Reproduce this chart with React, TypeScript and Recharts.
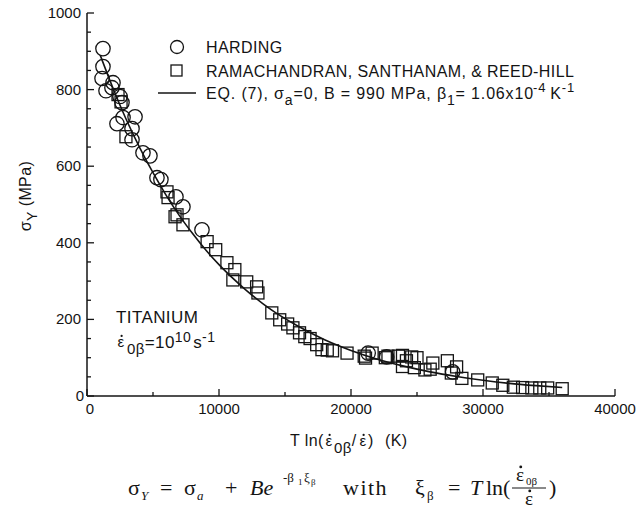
import React from 'react';
import { ComposedChart, Scatter, Line, XAxis, YAxis } from 'recharts';

// Harding data (open circles)
const harding = [
  { x: 1210, y: 907 }, { x: 1210, y: 860 }, { x: 1140, y: 829 }, { x: 1440, y: 797 },
  { x: 1890, y: 805 }, { x: 1970, y: 818 }, { x: 2500, y: 782 }, { x: 2650, y: 766 },
  { x: 2730, y: 727 }, { x: 3640, y: 729 }, { x: 2270, y: 711 }, { x: 3410, y: 698 },
  { x: 3410, y: 669 }, { x: 4240, y: 635 }, { x: 4770, y: 627 }, { x: 5300, y: 570 },
  { x: 5600, y: 565 }, { x: 6740, y: 520 }, { x: 7270, y: 494 }, { x: 8710, y: 434 },
  { x: 21300, y: 112 }, { x: 22700, y: 102 }, { x: 27700, y: 63 },
];

// Ramachandran, Santhanam & Reed-Hill data (open squares)
const ramachandran = [
  { x: 2350, y: 787 }, { x: 2580, y: 768 }, { x: 2950, y: 677 }, { x: 6060, y: 533 },
  { x: 6140, y: 518 }, { x: 6670, y: 468 }, { x: 6820, y: 473 }, { x: 7270, y: 447 },
  { x: 9100, y: 403 }, { x: 9750, y: 382 }, { x: 10600, y: 348 }, { x: 11200, y: 330 },
  { x: 11050, y: 303 }, { x: 12100, y: 298 }, { x: 12850, y: 285 }, { x: 12950, y: 269 },
  { x: 14000, y: 217 }, { x: 14600, y: 199 }, { x: 15200, y: 188 }, { x: 15600, y: 178 },
  { x: 16100, y: 165 }, { x: 16500, y: 155 }, { x: 16900, y: 150 }, { x: 17400, y: 134 },
  { x: 17800, y: 121 }, { x: 18200, y: 120 }, { x: 18600, y: 118 }, { x: 19700, y: 112 },
  { x: 21000, y: 104 }, { x: 21100, y: 99 }, { x: 21600, y: 112 }, { x: 22600, y: 100 },
  { x: 22800, y: 104 }, { x: 23600, y: 104 }, { x: 23900, y: 106 }, { x: 24200, y: 92 },
  { x: 24600, y: 102 }, { x: 25000, y: 100 }, { x: 23900, y: 77 }, { x: 24800, y: 74 },
  { x: 25600, y: 68 }, { x: 26000, y: 70 }, { x: 26200, y: 86 }, { x: 27300, y: 92 },
  { x: 27600, y: 60 }, { x: 28000, y: 76 }, { x: 28400, y: 46 }, { x: 29600, y: 42 },
  { x: 30700, y: 34 }, { x: 31500, y: 28 }, { x: 32300, y: 23 }, { x: 33000, y: 22 },
  { x: 33700, y: 21 }, { x: 34300, y: 21 }, { x: 34900, y: 21 }, { x: 36000, y: 19 },
];

// EQ. (7) fit curve, sigma = 990 exp(-1.06e-4 xi)
const eq7 = [
  { x: 1000, y: 890 }, { x: 2000, y: 801 }, { x: 3000, y: 720 }, { x: 4000, y: 648 },
  { x: 5000, y: 583 }, { x: 6000, y: 524 }, { x: 7000, y: 471 }, { x: 8000, y: 424 },
  { x: 9000, y: 381 }, { x: 10000, y: 343 }, { x: 12000, y: 278 }, { x: 14000, y: 224 },
  { x: 16000, y: 182 }, { x: 18000, y: 147 }, { x: 20000, y: 119 }, { x: 22000, y: 96 },
  { x: 24000, y: 78 }, { x: 26000, y: 63 }, { x: 28000, y: 51 }, { x: 30000, y: 41 },
  { x: 32000, y: 33 }, { x: 34000, y: 27 }, { x: 36000, y: 22 },
];

const xTicks = [0, 5000, 10000, 15000, 20000, 25000, 30000, 35000, 40000];
const yTicks = Array.from({ length: 21 }, (_, i) => i * 50);

const INK = '#141414';
const SANS = '"Liberation Sans", Arial, Helvetica, sans-serif';
const SERIF = '"Liberation Serif", "Times New Roman", serif';

const Circle = (p: any) => (
  <circle cx={p.cx} cy={p.cy} r={7.2} fill="none" stroke={INK} strokeWidth={1.3} />
);
const Square = (p: any) => (
  <rect x={p.cx - 6} y={p.cy - 6} width={12} height={12} fill="none" stroke={INK} strokeWidth={1.3} />
);

const LeftTick = ({ x, y, payload }: any) => {
  const major = payload.value % 200 === 0;
  return (
    <g>
      <line x1={x} x2={x + (major ? 7 : 4)} y1={y} y2={y} stroke={INK} strokeWidth={1.3} />
      {major && (
        <text x={payload.value === 0 ? x - 3 : x - 6} y={y + 5} textAnchor="end" fontSize={15} fontFamily={SANS} fill={INK}>
          {payload.value}
        </text>
      )}
    </g>
  );
};

const RightTick = ({ x, y, payload }: any) => {
  const major = payload.value % 200 === 0;
  return <line x1={x} x2={x - (major ? 7 : 4)} y1={y} y2={y} stroke={INK} strokeWidth={1.3} />;
};

const BottomTick = ({ x, y, payload }: any) => {
  const major = payload.value % 10000 === 0;
  return (
    <g>
      <line x1={x} x2={x} y1={y} y2={y - (major ? 7 : 4)} stroke={INK} strokeWidth={1.3} />
      {major && (
        <text x={payload.value === 0 ? x + 3 : x} y={y + 18} textAnchor="middle" fontSize={15} fontFamily={SANS} fill={INK}>
          {payload.value}
        </text>
      )}
    </g>
  );
};

const TopTick = ({ x, y }: any) => (
  <line x1={x} x2={x} y1={y} y2={y + 5} stroke={INK} strokeWidth={1.3} />
);

// strain-rate epsilon with its time-derivative dot
const EpsDot = ({ x, y, size, family }: { x: number; y: number; size: number; family: string }) => (
  <g>
    <text x={x} y={y} textAnchor="middle" fontFamily={family} fontSize={size}>ε</text>
    <circle cx={x + size * 0.04} cy={y - size * 0.74} r={size * 0.075} fill={INK} />
  </g>
);

const Overlay = () => (
  <svg width={644} height={508} style={{ position: 'absolute', left: 0, top: 0, pointerEvents: 'none' }}>
    <g fontFamily={SANS} fill={INK} fontSize={16} letterSpacing={0.4}>
      {/* legend */}
      <circle cx={177} cy={47} r={6.5} fill="none" stroke={INK} strokeWidth={1.3} />
      <text x={206} y={53}>HARDING</text>
      <rect x={171} y={65} width={11} height={11} fill="none" stroke={INK} strokeWidth={1.3} />
      <text x={206} y={77}>RAMACHANDRAN, SANTHANAM, &amp; REED-HILL</text>
      <line x1={158} x2={196} y1={93} y2={93} stroke={INK} strokeWidth={1.5} />
      <text x={206} y={99} letterSpacing={0.85}>
        EQ. (7), σ<tspan dy={6} fontSize={14}>a</tspan>
        <tspan dy={-6}>=0, B = 990 MPa, β</tspan>
        <tspan dy={6} fontSize={14}>1</tspan>
        <tspan dy={-6}>= 1.06x10</tspan>
        <tspan dy={-7} dx={-1} fontSize={13}>-4</tspan>
        <tspan dy={7} dx={4}>K</tspan>
        <tspan dy={-7} fontSize={13}>-1</tspan>
      </text>

      {/* material note */}
      <text x={116} y={323} fontSize={17}>TITANIUM</text>
      <EpsDot x={121} y={347} size={15} family={SANS} />
      <text x={127} y={348} fontSize={17}>
        <tspan dy={6} fontSize={15}>0β</tspan>
        <tspan dy={-6}>=10</tspan>
        <tspan dy={-6} fontSize={14}>10</tspan>
        <tspan dy={6} dx={2}>s</tspan>
        <tspan dy={-6} fontSize={14}>-1</tspan>
      </text>

      {/* axis titles */}
      <text x={290} y={446} fontSize={16}>T ln(</text>
      <EpsDot x={329} y={446} size={15} family={SANS} />
      <text x={334} y={446} fontSize={16}>
        <tspan dy={7} fontSize={15}>0β</tspan>
        <tspan dy={-7}>/</tspan>
      </text>
      <EpsDot x={363} y={446} size={15} family={SANS} />
      <text x={368} y={446} fontSize={16}>)</text>
      <text x={385} y={446} fontSize={16}>(K)</text>

      <text transform="translate(31,196) rotate(-90)" textAnchor="middle" fontSize={16}>
        σ<tspan dy={6} fontSize={14}>Y</tspan>
        <tspan dy={-6}> (MPa)</tspan>
      </text>
    </g>

    {/* model equation */}
    <g fontFamily={SERIF} fill={INK} fontSize={22}>
      <text x={128} y={495}>σ</text>
      <text x={141} y={500} fontSize={13} fontStyle="italic">Y</text>
      <text x={160} y={495}>=</text>
      <text x={184} y={495}>σ</text>
      <text x={197} y={500} fontSize={13} fontStyle="italic">a</text>
      <text x={225} y={495}>+</text>
      <text x={250} y={495} fontStyle="italic">Be</text>
      <text x={283} y={482} fontSize={13}>-β</text>
      <text x={298} y={485} fontSize={9}>1</text>
      <text x={304} y={482} fontSize={13}>ξ</text>
      <text x={311} y={485} fontSize={9}>β</text>
      <text x={343} y={495} letterSpacing={1.5}>with</text>
      <text x={415} y={495}>ξ</text>
      <text x={427} y={500} fontSize={13}>β</text>
      <text x={448} y={495}>=</text>
      <text x={470} y={495} fontStyle="italic">T</text>
      <text x={486} y={495}>ln(</text>
      <EpsDot x={520} y={481} size={19} family={SERIF} />
      <text x={526} y={485} fontSize={11}>0β</text>
      <line x1={512} x2={546} y1={488} y2={488} stroke={INK} strokeWidth={1} />
      <EpsDot x={529} y={505} size={19} family={SERIF} />
      <text x={549} y={495}>)</text>
    </g>
  </svg>
);

export default function App() {
  return (
    <div style={{ position: 'fixed', left: 0, top: 0, width: 644, height: 508, background: '#fff' }}>
      <ComposedChart
        width={644}
        height={508}
        margin={{ top: 13, right: 29, bottom: 82, left: 37 }}
      >
        <XAxis
          xAxisId="b"
          type="number"
          dataKey="x"
          domain={[0, 40000]}
          ticks={xTicks}
          interval={0}
          height={30}
          tickSize={0}
          tickMargin={0}
          tickLine={false}
          axisLine={{ stroke: INK, strokeWidth: 1.5 }}
          tick={<BottomTick />}
          allowDataOverflow
        />
        <XAxis
          xAxisId="t"
          orientation="top"
          type="number"
          dataKey="x"
          domain={[0, 40000]}
          ticks={xTicks}
          interval={0}
          height={0}
          tickSize={0}
          tickMargin={0}
          tickLine={false}
          axisLine={{ stroke: INK, strokeWidth: 1.5 }}
          tick={<TopTick />}
          allowDataOverflow
        />
        <YAxis
          yAxisId="l"
          type="number"
          dataKey="y"
          domain={[0, 1000]}
          ticks={yTicks}
          interval={0}
          width={50}
          tickSize={0}
          tickMargin={0}
          tickLine={false}
          axisLine={{ stroke: INK, strokeWidth: 1.5 }}
          tick={<LeftTick />}
          allowDataOverflow
        />
        <YAxis
          yAxisId="r"
          orientation="right"
          type="number"
          dataKey="y"
          domain={[0, 1000]}
          ticks={yTicks}
          interval={0}
          width={0}
          tickSize={0}
          tickMargin={0}
          tickLine={false}
          axisLine={{ stroke: INK, strokeWidth: 1.5 }}
          tick={<RightTick />}
          allowDataOverflow
        />
        <Line
          xAxisId="b"
          yAxisId="l"
          data={eq7}
          dataKey="y"
          type="monotone"
          stroke={INK}
          strokeWidth={1.6}
          dot={false}
          isAnimationActive={false}
        />
        <Scatter
          xAxisId="b"
          yAxisId="l"
          data={ramachandran}
          dataKey="y"
          shape={<Square />}
          isAnimationActive={false}
        />
        <Scatter
          xAxisId="b"
          yAxisId="l"
          data={harding}
          dataKey="y"
          shape={<Circle />}
          isAnimationActive={false}
        />
      </ComposedChart>
      <Overlay />
    </div>
  );
}
